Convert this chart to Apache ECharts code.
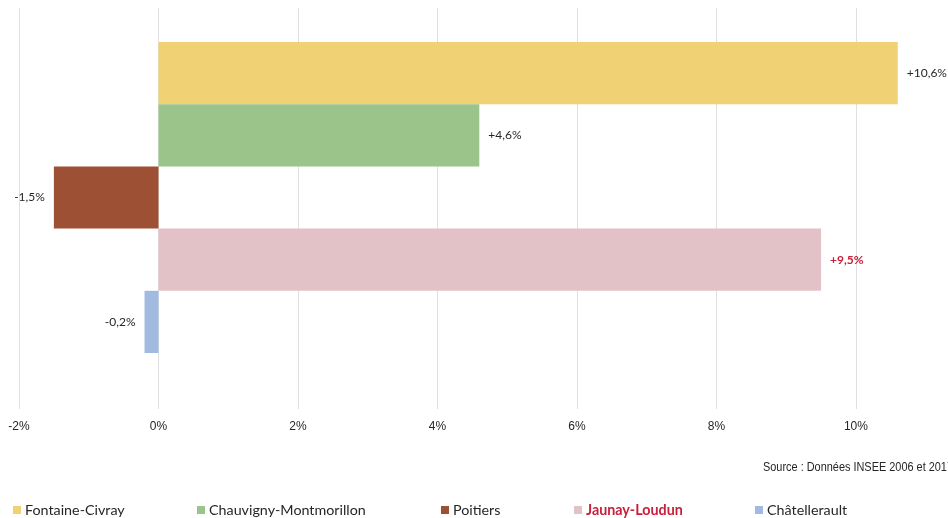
<!DOCTYPE html>
<html>
<head>
<meta charset="utf-8">
<style>
  html, body { margin: 0; padding: 0; background: #ffffff; }
  #chart { width: 948px; height: 518px; }
</style>
<script src="https://cdn.jsdelivr.net/npm/echarts@6/dist/echarts.min.js"></script>
</head>
<body>
<div id="chart"></div>
<script>
// Population change 2006–2017 by territory (%)
const territories = ['Fontaine-Civray', 'Chauvigny-Montmorillon', 'Poitiers', 'Jaunay-Loudun', 'Châtellerault'];
const changes = [10.6, 4.6, -1.5, 9.5, -0.2];
const colors = ['#f0d275', '#9bc48a', '#9e5035', '#e2c2c7', '#a0bae0'];
const legendLeft = [13, 197, 441, 574, 755];
const highlighted = 'Jaunay-Loudun';
const sourceNote = 'Source : Données INSEE 2006 et 2017';

// value axis: ticks every 2 % starting at -2 %, the plot ends a bit past 11 %
const axisMin = -2, axisMax = 11.32, axisStep = 2;
const HIGHLIGHT_RED = '#c8203a';
const labelFont = 'Lato, "Open Sans", sans-serif';
const narrowFont = '"Liberation Sans Narrow", "Liberation Sans", sans-serif';

function fmtChange(v) {
  return (v > 0 ? '+' : '') + v.toFixed(1).replace('.', ',') + '%';
}

const gridLeft = 19, gridRight = 0;

const series = territories.map((name, i) => {
  const v = changes[i];
  const isHi = name === highlighted;
  return {
    name: name,
    type: 'bar',
    xAxisIndex: 1,
    yAxisIndex: 1,
    barGap: 0,
    barCategoryGap: 0,
    data: [v],
    itemStyle: { color: colors[i] },
    label: {
      show: true,
      position: v >= 0 ? 'right' : 'left',
      distance: 9,
      formatter: p => fmtChange(p.value),
      fontFamily: labelFont,
      fontSize: 12,
      fontWeight: isHi ? 'bold' : 'normal',
      color: isHi ? HIGHLIGHT_RED : '#262626'
    }
  };
});

const legends = territories.map((name, i) => ({
  data: [name],
  left: legendLeft[i],
  top: 503,
  orient: 'horizontal',
  icon: 'rect',
  itemWidth: 8,
  itemHeight: 8,
  itemGap: 0,
  padding: 0,
  selectedMode: false,
  textStyle: {
    fontFamily: labelFont,
    fontSize: 14.3,
    fontWeight: name === highlighted ? 'bold' : 'normal',
    color: name === highlighted ? HIGHLIGHT_RED : '#262626',
    padding: [0, 0, 0, -1]
  }
}));

const chart = echarts.init(document.getElementById('chart'), null, { renderer: 'canvas' });
chart.setOption({
  animation: false,
  backgroundColor: '#ffffff',
  grid: [
    { left: gridLeft, right: gridRight, top: 8, bottom: 109 },
    { left: gridLeft, right: gridRight, top: 42, bottom: 165 }
  ],
  xAxis: [
    {
      gridIndex: 0,
      type: 'value',
      min: axisMin,
      max: axisMax,
      interval: axisStep,
      axisLine: { show: false },
      axisTick: { show: false },
      splitLine: { show: true, lineStyle: { color: '#e0e0e0', width: 1 } },
      axisLabel: {
        margin: 12,
        showMaxLabel: false,
        formatter: v => v + '%',
        fontFamily: narrowFont,
        fontSize: 12,
        color: '#262626'
      }
    },
    {
      gridIndex: 1,
      type: 'value',
      min: axisMin,
      max: axisMax,
      interval: axisStep,
      show: false
    }
  ],
  yAxis: [
    { gridIndex: 0, type: 'category', data: ['all'], show: false },
    { gridIndex: 1, type: 'category', data: ['all'], show: false, inverse: true }
  ],
  legend: legends,
  graphic: [
    {
      type: 'text',
      x: 763,
      y: 461,
      scaleX: 0.84,
      style: {
        text: sourceNote,
        fontFamily: '"Liberation Sans", sans-serif',
        fontSize: 13,
        fill: '#262626'
      }
    }
  ],
  series: series
});
</script>
</body>
</html>
